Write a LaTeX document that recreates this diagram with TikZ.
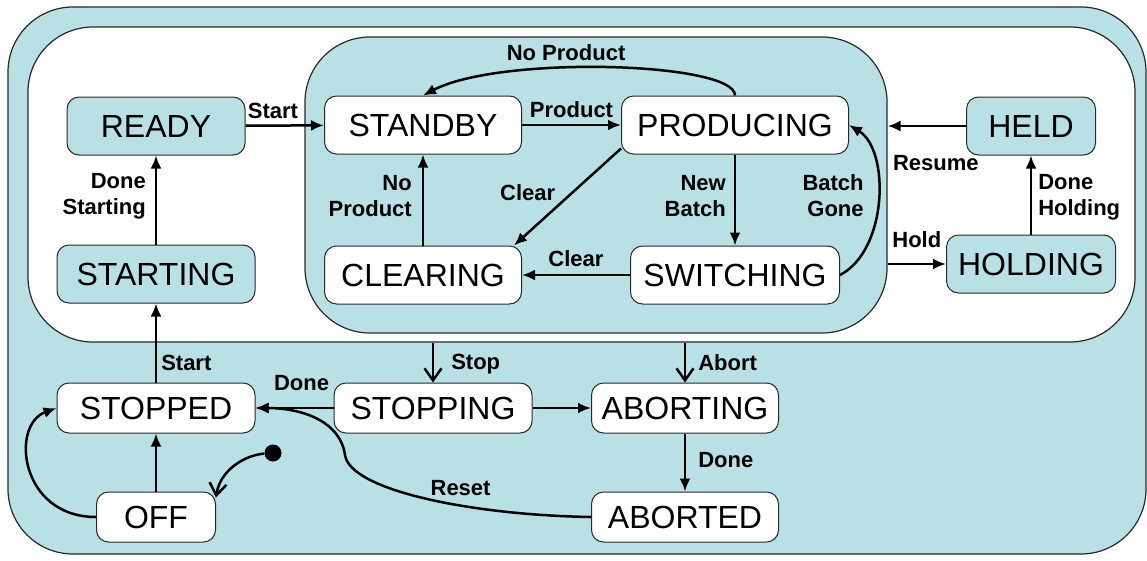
\documentclass[tikz,border=0pt]{standalone}
\usepackage{fontspec}
\setmainfont{Liberation Sans}
\usetikzlibrary{arrows.meta}

\definecolor{stateteal}{RGB}{185,224,228}
\definecolor{rim}{RGB}{40,40,40}

\begin{document}
\begin{tikzpicture}[
  x=1pt, y=-1pt,
  region/.style={draw=rim, line width=1.2pt, rounded corners=65pt, inner sep=0pt},
  state/.style={draw=rim, line width=1pt, fill=white, rounded corners=12pt,
    inner sep=0pt, minimum height=58pt, font=\fontsize{32}{34}\selectfont},
  low/.style={minimum height=50pt},
  shaded/.style={fill=stateteal},
  lbl/.style={font=\bfseries\fontsize{22}{26}\selectfont, inner sep=2pt},
  trans/.style={draw, line width=2.5pt, -{Latex[length=13pt,width=11pt]}},
  entry/.style={draw, line width=2.5pt, -{Straight Barb[length=12pt,width=17pt]}}
]
\useasboundingbox (0,0) rectangle (1147,560);

% nested regions
\node[region, fill=stateteal, minimum width=1138pt, minimum height=547pt] (outer) at (577,280.5) {};
\node[region, fill=white, minimum width=1107pt, minimum height=315pt] (running) at (581.5,184.5) {};
\node[region, fill=stateteal, minimum width=582pt, minimum height=296pt] (prod) at (596,185) {};

% states
\node[state, shaded, minimum width=178pt] (ready) at (156,126) {READY};
\node[state, shaded, minimum width=198pt] (starting) at (156,274) {STARTING};
\node[state, minimum width=197pt] (standby) at (423,125) {STANDBY};
\node[state, minimum width=227pt] (producing) at (735,125) {PRODUCING};
\node[state, minimum width=197pt] (clearing) at (423,275) {CLEARING};
\node[state, minimum width=209pt] (switching) at (735,275) {SWITCHING};
\node[state, shaded, minimum width=129pt] (held) at (1031,126) {HELD};
\node[state, shaded, minimum width=169pt] (holding) at (1031,264) {HOLDING};
\node[state, low, minimum width=198pt] (stopped) at (156,408) {STOPPED};
\node[state, low, minimum width=198pt] (stopping) at (433,408) {STOPPING};
\node[state, low, minimum width=187pt] (aborting) at (685,408) {ABORTING};
\node[state, low, minimum width=119pt] (off) at (156,517) {OFF};
\node[state, low, minimum width=187pt] (aborted) at (685,517) {ABORTED};
\node[circle, fill, inner sep=0pt, minimum size=17pt] (init) at (273,453) {};

% transitions
\draw[trans] (ready) -- node[lbl, above=4pt, pos=0.35] (l-start) {Start} (standby);
\draw[trans] (starting) -- node[lbl, left=7pt, yshift=4pt, align=right] (l-donestart) {Done\\Starting} (ready);
\draw[trans] (stopped) -- node[lbl, right=2pt, pos=0.25] (l-restart) {Start} (starting);
\draw[trans] (standby) -- node[lbl, above=4pt] (l-product) {Product} (producing);
\draw[trans] (producing.north) .. controls (735,62) and (500,55) .. node[lbl, above=4pt, pos=0.6] (l-noprod) {No Product} (standby.north);
\draw[trans] ([yshift=6pt]producing.south west) -- node[lbl, left=9pt, yshift=4pt] (l-clear) {Clear} ([xshift=-8pt]clearing.north east);
\draw[trans] (clearing) -- node[lbl, left=8pt, yshift=4pt, align=right] (l-noprod2) {No\\Product} (standby);
\draw[trans] (producing) -- node[lbl, left=6pt, yshift=4pt, align=right] (l-newbatch) {New\\Batch} (switching);
\draw[trans] (switching.east) .. controls (888,250) and (890,150) .. node[lbl, left=11pt, yshift=4pt, align=right] (l-gone) {Batch\\Gone} (producing.east);
\draw[trans] (switching) -- node[lbl, above=5pt] (l-clear2) {Clear} (clearing);
\draw[trans] (held) -- node[lbl, below=26pt, xshift=9pt] (l-resume) {Resume} (held.west -| prod.east);
\draw[trans] (holding.west -| prod.east) -- node[lbl, above=13pt] (l-hold) {Hold} (holding);
\draw[trans] (holding) -- node[lbl, right=4pt, yshift=-2pt, align=left] (l-doneheld) {Done\\Holding} (held);
\draw[entry] (stopping.north |- running.south) -- node[lbl, right=15pt, yshift=-2pt] (l-stop) {Stop} (stopping);
\draw[entry] (aborting.north |- running.south) -- node[lbl, right=10pt] (l-abort) {Abort} (aborting);
\draw[trans] (stopping) -- node[lbl, above=14pt, xshift=7pt] (l-donestop) {Done} (stopped);
\draw[trans] (stopping) -- (aborting);
\draw[trans] (aborting) -- node[lbl, right=10pt, yshift=2pt] (l-doneabort) {Done} (aborted);
\draw[trans] (aborted.west) .. controls (470,515) and (350,490) .. node[lbl, above=5pt, xshift=7pt, pos=0.4] (l-reset) {Reset} (345,455)
  .. controls (340,420) and (300,408) .. (stopped.east);
\draw[trans] (off) -- (stopped);
\draw[trans] (off.west) .. controls (20,517) and (10,425) .. (stopped.west);
\draw[entry] (init) .. controls (245,455) and (220,470) .. ([yshift=-6pt]off.north east);
\end{tikzpicture}
\end{document}
